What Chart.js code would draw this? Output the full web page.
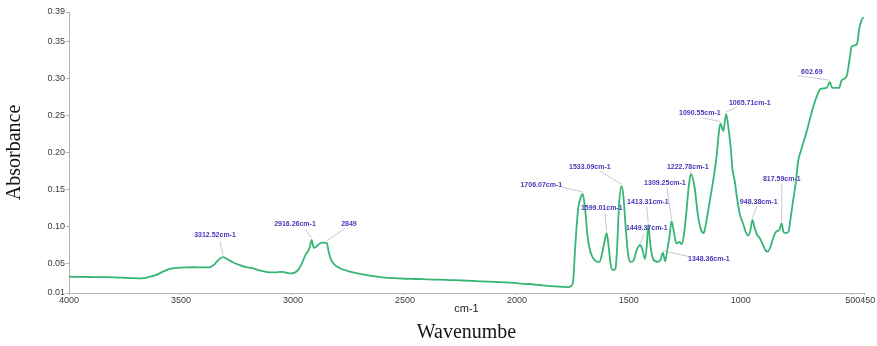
<!DOCTYPE html>
<html>
<head>
<meta charset="utf-8">
<script src="https://cdn.jsdelivr.net/npm/chart.js@4/dist/chart.umd.min.js"></script>
<style>
  html, body { margin: 0; padding: 0; background: #ffffff; }
  #wrap { width: 877px; height: 346px; position: relative; }
</style>
</head>
<body>
<div id="wrap"><canvas id="ir" width="877" height="346"></canvas></div>
<script>
// FTIR absorbance spectrum, wavenumber (cm-1) vs absorbance
const wavenumbers = [
  4000, 3950, 3900, 3850, 3800, 3760, 3720, 3690, 3665, 3640, 3610, 3580, 3550, 3520,
  3480, 3440, 3400, 3375, 3355, 3335, 3312.52, 3295, 3270, 3240, 3210, 3180, 3150, 3120,
  3095, 3075, 3055, 3035, 3010, 2992, 2975, 2960, 2945, 2932, 2924, 2916.26, 2907, 2897,
  2882, 2865, 2849, 2840, 2830, 2815, 2790, 2750, 2700, 2650, 2600, 2550, 2500, 2450,
  2400, 2350, 2300, 2250, 2200, 2160, 2100, 2050, 2000, 1950, 1900, 1850, 1800, 1770,
  1758, 1749, 1740, 1732, 1725, 1716, 1706.07, 1696, 1684, 1672, 1655, 1632, 1619, 1609,
  1599.01, 1590, 1581, 1570, 1560, 1553, 1544, 1533.09, 1525, 1515, 1503, 1492, 1478, 1465,
  1449.37, 1439, 1428, 1420, 1413.31, 1404, 1392, 1370, 1358, 1348.36, 1338, 1328, 1318,
  1309.25, 1297, 1288, 1273, 1264, 1254, 1243, 1232, 1222.78, 1206, 1192, 1177, 1166, 1154,
  1139, 1124, 1109, 1097, 1090.55, 1078, 1065.71, 1054, 1045, 1038, 1027, 1017, 1004, 990,
  976, 966, 957, 948.38, 938, 927, 915, 901, 890, 880, 867, 856, 842, 829, 817.59, 810, 799,
  787, 778, 767, 754, 744, 730, 707, 684, 662, 644, 617, 602.69, 592, 576, 561, 550, 528,
  513, 506, 491, 481, 472, 461, 451
];
const absorbance = [
  0.0320, 0.0318, 0.0316, 0.0314, 0.0311, 0.0306, 0.0300, 0.0298, 0.0302, 0.0318, 0.0345, 0.0390, 0.0425, 0.0440,
  0.0447, 0.0448, 0.0446, 0.0447, 0.0475, 0.0540, 0.0585, 0.0560, 0.0520, 0.0480, 0.0450, 0.0438, 0.0405, 0.0385,
  0.0378, 0.0380, 0.0386, 0.0378, 0.0365, 0.0375, 0.0420, 0.0500, 0.0610, 0.0670, 0.0730, 0.0818, 0.0710, 0.0725,
  0.0765, 0.0780, 0.0778, 0.0650, 0.0550, 0.0485, 0.0435, 0.0392, 0.0358, 0.0332, 0.0312, 0.0300, 0.0293, 0.0289,
  0.0284, 0.0280, 0.0275, 0.0270, 0.0264, 0.0257, 0.0251, 0.0243, 0.0233, 0.0222, 0.0208, 0.0193, 0.0184, 0.0180,
  0.0195, 0.0260, 0.0700, 0.1050, 0.1270, 0.1380, 0.1440, 0.1250, 0.0860, 0.0660, 0.0550, 0.0520, 0.0640, 0.0790,
  0.0910, 0.0720, 0.0480, 0.0410, 0.0430, 0.0680, 0.1280, 0.1545, 0.1430, 0.1020, 0.0610, 0.0520, 0.0545, 0.0680,
  0.0750, 0.0680, 0.0560, 0.0740, 0.1020, 0.0750, 0.0560, 0.0520, 0.0550, 0.0645, 0.0530, 0.0690, 0.0880,
  0.1067, 0.0890, 0.0770, 0.0790, 0.0760, 0.0890, 0.1200, 0.1560, 0.1710, 0.1520, 0.1160, 0.0950, 0.0910, 0.1070,
  0.1340, 0.1610, 0.1930, 0.2300, 0.2390, 0.2290, 0.2520, 0.2300, 0.2060, 0.1790, 0.1610, 0.1385, 0.1160, 0.1040,
  0.0910, 0.0877, 0.0950, 0.1090, 0.0976, 0.0886, 0.0840, 0.0750, 0.0680, 0.0660, 0.0727, 0.0840, 0.0930, 0.0950, 0.1040, 0.0930, 0.0910,
  0.0930, 0.1110, 0.1340, 0.1610, 0.1885, 0.2040, 0.2270, 0.2540, 0.2750, 0.2860, 0.2875, 0.2950, 0.2875, 0.2875, 0.2875, 0.2975, 0.3030,
  0.3290, 0.3430, 0.3450, 0.3470, 0.3660, 0.3790, 0.3830
];

// axis ticks
const xTickValues = [4000, 3500, 3000, 2500, 2000, 1500, 1000, 500, 450];
const yTickValues = [0.01, 0.05, 0.10, 0.15, 0.20, 0.25, 0.30, 0.35, 0.39];

// marked peaks (wavenumbers as printed)
const peakTexts = [
  '3312.52cm-1', '2916.26cm-1', '2849', '1706.07cm-1', '1533.09cm-1', '1599.01cm-1',
  '1413.31cm-1', '1449.37cm-1', '1309.25cm-1', '1348.36cm-1', '1222.78cm-1',
  '1090.55cm-1', '1065.71cm-1', '948.38cm-1', '817.59cm-1', '602.69'
];
const peakPositions = [
  3312.52, 2916.26, 2849, 1706.07, 1533.09, 1599.01,
  1413.31, 1449.37, 1309.25, 1348.36, 1222.78,
  1090.55, 1065.71, 948.38, 817.59, 602.69
];

// placement of each peak caption (text centre) and start of its leader line, in axis units
const captionAt = [
  [3348, 0.0877], [2991, 0.103], [2750, 0.103], [1891, 0.1558], [1674, 0.180], [1621, 0.1244],
  [1415, 0.1326], [1420, 0.0972], [1339, 0.1585], [1143, 0.0563], [1237, 0.180],
  [1183, 0.2539], [960, 0.2675], [920, 0.1326], [817, 0.164], [683, 0.3084]
];
const leaderFrom = [
  [3326, 0.0795], [2946, 0.0958], [2768, 0.0972], [1799, 0.153], [1629, 0.1746], [1607, 0.1176],
  [1420, 0.127], [1431, 0.0903], [1330, 0.153], [1228, 0.059], [1228, 0.1746],
  [1170, 0.247], [1019, 0.261], [929, 0.127], [817, 0.158], [746, 0.304]
];

const points = wavenumbers.map((w, i) => ({ x: w, y: absorbance[i] }));

function absorbanceAt(w) {
  for (let i = 0; i < wavenumbers.length - 1; i++) {
    const a = wavenumbers[i], b = wavenumbers[i + 1];
    if (w <= a && w >= b) {
      const t = (a - w) / (a - b);
      return absorbance[i] + t * (absorbance[i + 1] - absorbance[i]);
    }
  }
  return absorbance[absorbance.length - 1];
}

// draws the peak captions with thin leader lines down to the curve
const peakCaptions = {
  id: 'peakCaptions',
  afterDatasetsDraw(chart) {
    const { ctx, scales: { x, y } } = chart;
    ctx.save();
    ctx.font = 'bold 7px "Liberation Sans", Arial, sans-serif';
    ctx.textAlign = 'center';
    ctx.textBaseline = 'middle';
    peakTexts.forEach((txt, i) => {
      const px = x.getPixelForValue(peakPositions[i]);
      const py = y.getPixelForValue(absorbanceAt(peakPositions[i])) - 2;
      const sx = x.getPixelForValue(leaderFrom[i][0]);
      const sy = y.getPixelForValue(leaderFrom[i][1]);
      ctx.strokeStyle = 'rgba(175,172,205,0.85)';
      ctx.lineWidth = 0.8;
      ctx.beginPath();
      ctx.moveTo(sx, sy);
      ctx.lineTo(px, py);
      ctx.stroke();
      ctx.fillStyle = '#4a37b8';
      ctx.fillText(txt, x.getPixelForValue(captionAt[i][0]), y.getPixelForValue(captionAt[i][1]));
    });
    ctx.restore();
  }
};

const axisColor = '#b4b4b4';
const tickFont = { family: '"Liberation Sans", Arial, sans-serif', size: 9 };

new Chart(document.getElementById('ir'), {
  type: 'line',
  data: {
    datasets: [{
      data: points,
      borderColor: '#36b574',
      borderWidth: 1.8,
      pointRadius: 0,
      fill: false,
      cubicInterpolationMode: 'monotone'
    }]
  },
  options: {
    responsive: false,
    animation: false,
    devicePixelRatio: 1,
    layout: { padding: { top: 12, right: 13, left: 0, bottom: 0 } },
    plugins: {
      legend: { display: false },
      tooltip: { enabled: false },
      title: {
        display: true,
        position: 'bottom',
        fullSize: false,
        text: 'Wavenumbe',
        color: '#151515',
        font: { family: '"Liberation Serif", "Times New Roman", serif', size: 20, weight: 'normal' },
        padding: { top: 0, bottom: 1 }
      }
    },
    scales: {
      x: {
        type: 'linear',
        reverse: true,
        min: 450,
        max: 4000,
        afterBuildTicks: (s) => { s.ticks = xTickValues.map(v => ({ value: v })); },
        afterFit: (s) => { s.height = 28; },
        ticks: {
          autoSkip: false,
          maxRotation: 0,
          padding: 0,
          color: '#3a3a3a',
          font: tickFont,
          // the last two ticks sit close together; nudge the end label right
          callback: (v) => (v === 450 ? '   450' : String(v))
        },
        grid: { display: true, drawOnChartArea: false, tickLength: 2, color: axisColor },
        border: { color: axisColor, width: 1 },
        title: {
          display: true,
          text: 'cm-1',
          color: '#1a1a1a',
          font: { family: '"Liberation Sans", Arial, sans-serif', size: 11 },
          padding: { top: 0, bottom: 5 }
        }
      },
      y: {
        type: 'linear',
        min: 0.01,
        max: 0.39,
        afterBuildTicks: (s) => { s.ticks = yTickValues.map(v => ({ value: v })); },
        afterFit: (s) => { s.width = 69; },
        ticks: {
          padding: 1,
          color: '#3a3a3a',
          font: tickFont,
          callback: (v) => Number(v).toFixed(2)
        },
        grid: { display: true, drawOnChartArea: false, tickLength: 3, color: axisColor },
        border: { color: axisColor, width: 1 },
        title: {
          display: true,
          text: 'Absorbance',
          color: '#151515',
          font: { family: '"Liberation Serif", "Times New Roman", serif', size: 20, weight: 'normal' },
          padding: { top: 3, bottom: 0 }
        }
      }
    }
  },
  plugins: [peakCaptions]
});
</script>
</body>
</html>
